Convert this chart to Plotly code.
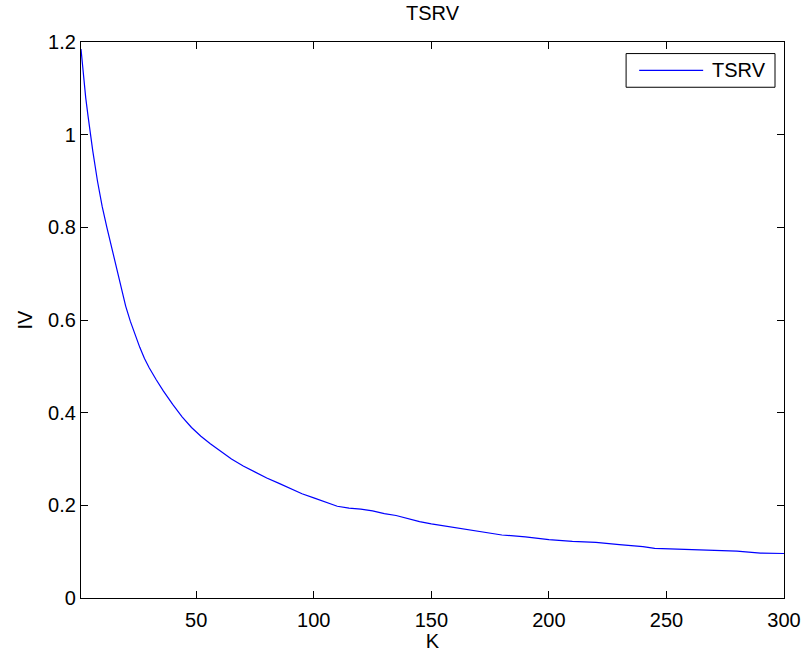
import plotly.graph_objects as go

K = [1, 2, 3, 4, 5, 6, 8, 10, 12, 14, 16, 18, 20, 22, 24, 26, 28, 30, 33, 36, 40, 44,
     48, 52, 56, 60, 65, 70, 75, 80, 85, 90, 95, 100, 105, 110, 115, 120, 125, 130,
     135, 140, 145, 150, 160, 170, 180, 190, 200, 210, 220, 230, 240, 245, 250, 260,
     270, 280, 290, 300]
IV = [1.185, 1.13, 1.08, 1.04, 1.00, 0.965, 0.90, 0.845, 0.80, 0.757, 0.712, 0.67,
      0.63, 0.597, 0.568, 0.541, 0.517, 0.497, 0.471, 0.447, 0.418, 0.391, 0.368,
      0.349, 0.333, 0.318, 0.300, 0.285, 0.272, 0.259, 0.248, 0.236, 0.225, 0.216,
      0.207, 0.198, 0.194, 0.192, 0.188, 0.182, 0.178, 0.171, 0.165, 0.160, 0.152,
      0.143, 0.136, 0.132, 0.126, 0.122, 0.120, 0.115, 0.111, 0.107, 0.106, 0.104,
      0.102, 0.101, 0.097, 0.096]
x_ticks = [50, 100, 150, 200, 250, 300]
y_ticks = [0, 0.2, 0.4, 0.6, 0.8, 1.0, 1.2]
y_tick_text = ["0", "0.2", "0.4", "0.6", "0.8", "1", "1.2"]
series_name = "TSRV"

FONT = "Liberation Sans, Arial, sans-serif"
FS = 20

fig = go.Figure()
fig.add_trace(go.Scatter(x=K, y=IV, mode="lines", name=series_name,
                         line=dict(color="#0000FF", width=1.2), showlegend=False))

axis_common = dict(showline=True, linecolor="black", linewidth=1.3, mirror="ticks",
                   ticks="inside", ticklen=7, tickcolor="black", tickwidth=1,
                   showgrid=False, zeroline=False, automargin=False,
                   tickfont=dict(family=FONT, size=FS, color="black"))

fig.update_xaxes(range=[1, 300], tickvals=x_ticks, ticklabelstandoff=4,
                 title=dict(text="K", font=dict(family=FONT, size=FS, color="black"), standoff=6),
                 **axis_common)
fig.update_yaxes(range=[0, 1.2], tickvals=y_ticks, ticktext=y_tick_text,
                 title=dict(text="IV", font=dict(family=FONT, size=FS, color="black"), standoff=10),
                 **axis_common)

# legend box (MATLAB style)
lx0, lx1, ly0, ly1 = 0.7754, 0.9872, 0.9186, 0.9792
ymid = (ly0 + ly1) / 2
fig.add_shape(type="rect", xref="paper", yref="paper", x0=lx0, x1=lx1, y0=ly0, y1=ly1,
              line=dict(color="black", width=1), fillcolor="white", layer="above")
fig.add_shape(type="line", xref="paper", yref="paper", x0=0.794, x1=0.885, y0=ymid, y1=ymid,
              line=dict(color="#0000FF", width=1.2), layer="above")
fig.add_annotation(xref="paper", yref="paper", x=0.8948, y=ymid, text=series_name,
                   showarrow=False, xanchor="left", yanchor="middle",
                   font=dict(family=FONT, size=FS, color="black"))

fig.update_layout(
    width=804, height=652,
    margin=dict(l=81, r=20, t=42, b=54, autoexpand=False),
    paper_bgcolor="white", plot_bgcolor="white",
    title=dict(text="TSRV", x=0.5, xref="paper", xanchor="center",
               y=1 - 13 / 652, yref="container", yanchor="middle",
               font=dict(family=FONT, size=FS, color="black")),
)

fig.write_html("out.html")
